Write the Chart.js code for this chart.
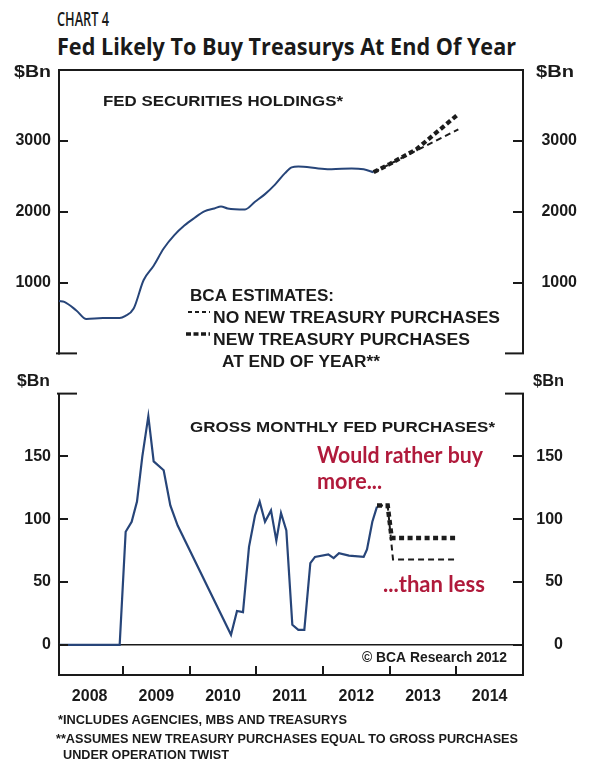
<!DOCTYPE html>
<html>
<head>
<meta charset="utf-8">
<script src="https://cdn.jsdelivr.net/npm/chart.js@4.4.1/dist/chart.umd.min.js"></script>
<style>
  html, body { margin: 0; padding: 0; background: #fff; }
  body { width: 590px; height: 760px; position: relative; overflow: hidden;
         font-family: "Liberation Sans", Arial, sans-serif; color: #1a1a1a; }
  .t { position: absolute; white-space: nowrap; transform-origin: 0 0; line-height: 1; }
  .foot { font-family: "Liberation Sans", Arial, sans-serif; font-weight: bold; font-size: 12px; }
  #holdings { position: absolute; left: 0; top: 0; }
  #purchases { position: absolute; left: 0; top: 372px; }
</style>
</head>
<body>
<div class="t" data-w="52" style="left:57px;top:9px;font-family:'Open Sans';font-weight:600;font-size:20px;">CHART 4</div>
<div class="t" data-w="459" style="left:57px;top:34px;font-family:'Open Sans';font-weight:700;font-size:24px;">Fed Likely To Buy Treasurys At End Of Year</div>

<canvas id="holdings" width="590" height="375"></canvas>
<canvas id="purchases" width="590" height="343"></canvas>

<div class="t foot" data-w="289" style="left:58px;top:714px;">*INCLUDES AGENCIES, MBS AND TREASURYS</div>
<div class="t foot" data-w="462" style="left:56px;top:733px;">**ASSUMES NEW TREASURY PURCHASES EQUAL TO GROSS PURCHASES</div>
<div class="t foot" data-w="166" style="left:63px;top:749px;">UNDER OPERATION TWIST</div>

<script>
// ---- Fed securities holdings, $bn (dates as decimal years) ----
const holdingsDates = [2008.04, 2008.12, 2008.30, 2008.45, 2008.70, 2008.95, 2009.03, 2009.16,
  2009.31, 2009.46, 2009.61, 2009.77, 2009.92, 2010.07, 2010.22, 2010.37, 2010.47, 2010.57,
  2010.83, 2010.98, 2011.13, 2011.28, 2011.43, 2011.53, 2011.63, 2011.93, 2012.13, 2012.43,
  2012.61, 2012.76];
const holdingsValues = [740, 727, 606, 485, 498, 498, 525, 633,
  1036, 1238, 1480, 1669, 1804, 1911, 2005, 2046, 2073, 2046,
  2032, 2140, 2248, 2382, 2544, 2625, 2638, 2611, 2598, 2611,
  2598, 2557];

// BCA estimates for holdings
const estimateDates = [2012.76, 2013.00, 2013.40, 2014.03];
const estimateNoNew = [2557, 2671, 2862, 3163];
const estimateNew   = [2557, 2673, 2880, 3378];

// ---- Gross monthly Fed purchases, $bn ----
const purchaseDates = [2008.04, 2008.95, 2009.04, 2009.13, 2009.21, 2009.29, 2009.38, 2009.46,
  2009.61, 2009.71, 2009.82, 2010.62, 2010.71, 2010.80, 2010.89, 2010.98, 2011.05, 2011.13,
  2011.22, 2011.30, 2011.37, 2011.45, 2011.54, 2011.63, 2011.72, 2011.81, 2011.88, 2012.08,
  2012.16, 2012.24, 2012.39, 2012.61, 2012.66, 2012.74, 2012.81];
const purchaseValues = [0, 0, 90, 98, 114, 150, 182, 146,
  139, 111, 95, 8, 27, 26, 78, 103, 114, 98,
  107, 83, 105, 91, 16, 12, 12, 65, 70, 72,
  69, 73, 71, 70, 76, 98, 110];

// BCA estimates for purchases
const buyMoreDates  = [2012.81, 2012.97, 2013.03, 2014.01];
const buyMoreValues = [111, 111, 85, 85];
const buyLessDates  = [2012.81, 2012.97, 2013.05, 2013.98];
const buyLessValues = [111, 111, 68, 68];

// ---- axis labels ----
const yearLabels = ['2008', '2009', '2010', '2011', '2012', '2013', '2014'];
const holdingsTicks = [1000, 2000, 3000];
const purchaseTicks = [0, 50, 100, 150];

const INK = '#1a1a1a';
const BLUE = '#274579';
const RED = '#b01a3b';
const X_MIN = 2008.04, X_MAX = 2015.0;

const zip = (xs, ys) => xs.map((x, i) => ({ x, y: ys[i] }));

// horizontally fitted text
function fitText(ctx, txt, x, y, w, font, color) {
  ctx.save();
  ctx.font = font;
  ctx.fillStyle = color || INK;
  ctx.textBaseline = 'alphabetic';
  ctx.textAlign = 'left';
  const m = ctx.measureText(txt).width;
  ctx.translate(x, y);
  ctx.scale(w / m, 1);
  ctx.fillText(txt, 0, 0);
  ctx.restore();
}

function seg(ctx, x1, y1, x2, y2) {
  ctx.beginPath(); ctx.moveTo(x1, y1); ctx.lineTo(x2, y2); ctx.stroke();
}

// inward tick marks, frame pieces, and panel notes
const panelDecor = {
  id: 'panelDecor',
  afterDraw(chart, args, o) {
    const { ctx } = chart;
    const { left, right, top, bottom } = chart.chartArea;
    ctx.save();
    ctx.strokeStyle = INK;
    ctx.lineWidth = 2;
    const yl = chart.scales.y, yr = chart.scales.y2;
    yl.ticks.forEach(t => {
      const p = Math.round(yl.getPixelForValue(t.value));
      seg(ctx, left, p, left + 9, p);
    });
    yr.ticks.forEach(t => {
      const p = Math.round(yr.getPixelForValue(t.value));
      seg(ctx, right - 10, p, right, p);
    });
    if (o.frameTop) seg(ctx, left - 1, top, right + 1, top);
    if (o.stubsBottom) {
      seg(ctx, left - 3, bottom, left + 18, bottom);
      seg(ctx, right - 18, bottom, right + 1, bottom);
    }
    if (o.stubsTop) {
      seg(ctx, left - 2, top, left + 18, top);
      seg(ctx, right - 18, top, right + 1, top);
    }
    if (o.yearMarks) {
      const xs = chart.scales.x;
      for (let yr = 2009; yr <= 2014; yr++) {
        const p = Math.round(xs.getPixelForValue(yr));
        seg(ctx, p, bottom - 9, p, bottom);
      }
    }
    (o.markers || []).forEach(m => {
      ctx.lineWidth = m.width;
      ctx.setLineDash(m.dash);
      seg(ctx, m.x1, m.y, m.x2, m.y);
    });
    ctx.setLineDash([]);
    ctx.restore();
    (o.notes || []).forEach(n => fitText(ctx, n.text, n.x, n.y, n.w, n.font, n.color));
  }
};

const AX = "bold 16px 'Liberation Sans', Arial, sans-serif";
const AXS = "bold 15px 'Liberation Sans', Arial, sans-serif";
const plain = v => String(v);

function yAxes(min, max, ticks, rightPad, zeroLine) {
  return {
    y: {
      position: 'left', min, max,
      afterBuildTicks: s => { s.ticks = ticks.map(v => ({ value: v })); },
      afterFit: s => { s.width = 59; },
      ticks: { padding: 8, color: INK, font: { size: 16, weight: 'bold' }, callback: plain },
      border: { display: true, color: INK, width: 2 },
      grid: {
        display: zeroLine, drawTicks: false, drawOnChartArea: true, lineWidth: 1.6,
        color: c => (c.tick && c.tick.value === 0 ? INK : 'rgba(0,0,0,0)')
      }
    },
    y2: {
      position: 'right', min, max,
      afterBuildTicks: s => { s.ticks = ticks.map(v => ({ value: v })); },
      afterFit: s => { s.width = rightPad; },
      ticks: { padding: 12, crossAlign: 'far', color: INK, font: { size: 16, weight: 'bold' },
               callback: plain },
      border: { display: true, color: INK, width: 2 },
      grid: { display: false, drawTicks: false }
    }
  };
}

function build() {
  Chart.defaults.font.family = "'Liberation Sans', Arial, sans-serif";
  Chart.defaults.font.weight = 'bold';
  Chart.defaults.color = INK;

  // ---------- upper panel: holdings ----------
  new Chart(document.getElementById('holdings'), {
    type: 'line',
    data: {
      datasets: [
        { data: zip(estimateDates, estimateNew), borderColor: '#1c1c1c', borderWidth: 4.2,
          borderDash: [5, 3], pointRadius: 0, tension: 0 },
        { data: zip(estimateDates, estimateNoNew), borderColor: '#1c1c1c', borderWidth: 2,
          borderDash: [6, 4], pointRadius: 0, tension: 0 },
        { data: zip(holdingsDates, holdingsValues), borderColor: BLUE, borderWidth: 2,
          pointRadius: 0, cubicInterpolationMode: 'monotone' }
      ]
    },
    options: {
      responsive: false, animation: false,
      layout: { padding: { top: 70, bottom: 8, left: 0, right: 13 } },
      plugins: {
        legend: { display: false }, tooltip: { enabled: false },
        panelDecor: {
          frameTop: true, stubsBottom: true,
          markers: [
            { x1: 188, x2: 210, y: 312, width: 2, dash: [4, 3] },
            { x1: 186, x2: 210, y: 334, width: 3.5, dash: [5, 2.5] }
          ],
          notes: [
            { text: '$Bn', x: 14, y: 77, w: 37, font: AX },
            { text: '$Bn', x: 536, y: 77, w: 38, font: AX },
            { text: 'FED SECURITIES HOLDINGS*', x: 103, y: 106, w: 240, font: AXS },
            { text: 'BCA ESTIMATES:', x: 190, y: 301, w: 144, font: AX },
            { text: 'NO NEW TREASURY PURCHASES', x: 213, y: 323, w: 287, font: AX },
            { text: 'NEW TREASURY PURCHASES', x: 213, y: 345, w: 257, font: AX },
            { text: 'AT END OF YEAR**', x: 222, y: 367, w: 158, font: AX }
          ]
        }
      },
      scales: Object.assign({
        x: { type: 'linear', min: X_MIN, max: X_MAX, display: false }
      }, yAxes(0, 4000, holdingsTicks, 54, false))
    },
    plugins: [panelDecor]
  });

  // ---------- lower panel: gross purchases ----------
  const OFF = 372;
  new Chart(document.getElementById('purchases'), {
    type: 'line',
    data: {
      datasets: [
        { data: zip(buyMoreDates, buyMoreValues), borderColor: '#1c1c1c', borderWidth: 4.5,
          borderDash: [5, 3.5], pointRadius: 0, tension: 0 },
        { data: zip(buyLessDates, buyLessValues), borderColor: '#1c1c1c', borderWidth: 2,
          borderDash: [6, 4], pointRadius: 0, tension: 0 },
        { data: zip(purchaseDates, purchaseValues), borderColor: BLUE, borderWidth: 2.2,
          pointRadius: 0, tension: 0 }
      ]
    },
    options: {
      responsive: false, animation: false,
      layout: { padding: { top: 7, bottom: 0, left: 0, right: 27 } },
      plugins: {
        legend: { display: false }, tooltip: { enabled: false },
        panelDecor: {
          stubsTop: true, yearMarks: true,
          notes: [
            { text: '$Bn', x: 17, y: 386 - OFF, w: 33, font: AX },
            { text: '$Bn', x: 533, y: 386 - OFF, w: 31, font: AX },
            { text: 'GROSS MONTHLY FED PURCHASES*', x: 190, y: 432 - OFF, w: 305, font: AXS },
            { text: 'Would rather buy', x: 317, y: 463 - OFF, w: 166,
              font: "bold 23px Lato, 'Open Sans', sans-serif", color: RED },
            { text: 'more...', x: 317, y: 489 - OFF, w: 65,
              font: "bold 23px Lato, 'Open Sans', sans-serif", color: RED },
            { text: '...than less', x: 383, y: 592 - OFF, w: 102,
              font: "bold 23px Lato, 'Open Sans', sans-serif", color: RED },
            { text: '\u00A9 BCA Research 2012', x: 362, y: 662 - OFF, w: 145,
              font: "bold 14px 'Liberation Sans', Arial, sans-serif" }
          ]
        }
      },
      scales: Object.assign({
        x: {
          type: 'linear', min: X_MIN, max: X_MAX, position: 'bottom',
          afterBuildTicks: s => { s.ticks = yearLabels.map((_, i) => ({ value: 2008.5 + i })); },
          afterFit: s => { s.height = 40; },
          ticks: { autoSkip: false, maxRotation: 0, minRotation: 0, padding: 12,
                   color: INK, font: { size: 16, weight: 'bold' },
                   callback: (v, i) => yearLabels[i] },
          border: { display: true, color: INK, width: 2 },
          grid: { display: false, drawTicks: false }
        }
      }, yAxes(-24, 200, purchaseTicks, 40, true))
    },
    plugins: [panelDecor]
  });
}

function fitHtml() {
  document.querySelectorAll('.t[data-w]').forEach(el => {
    const w = el.getBoundingClientRect().width;
    el.style.transform = 'scaleX(' + (parseFloat(el.dataset.w) / w).toFixed(4) + ')';
  });
}

document.fonts.ready.then(() => { fitHtml(); build(); });
</script>
</body>
</html>
